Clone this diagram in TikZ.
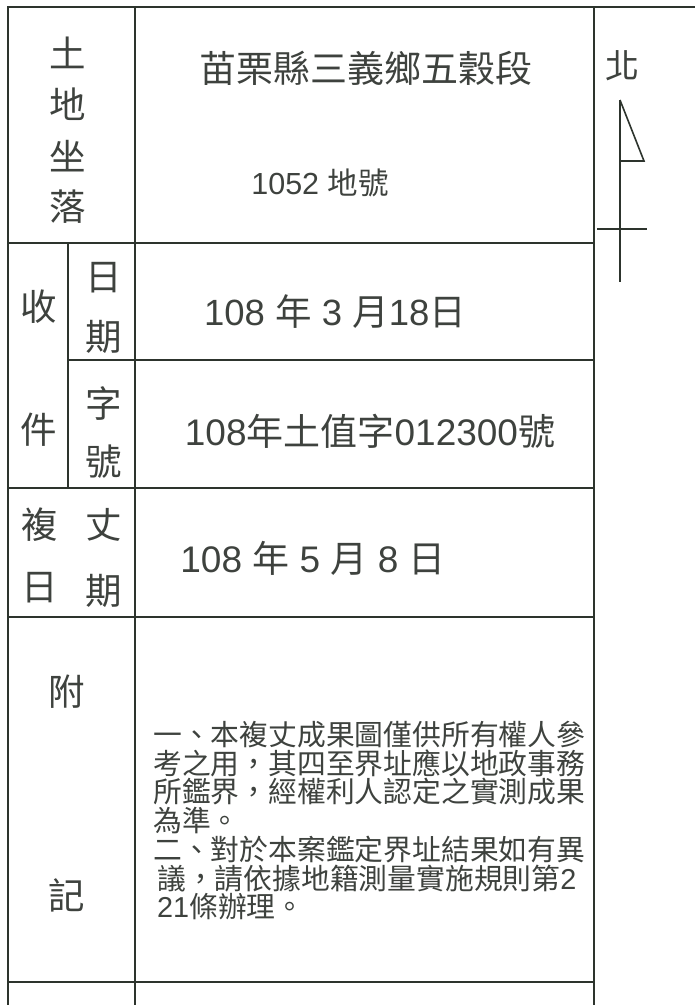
\documentclass[tikz,border=0pt]{standalone}
\usepackage{fontspec}
\setmainfont{Noto Sans CJK TC}
\newfontfamily\latf{Liberation Sans}
\definecolor{ink}{RGB}{45,52,45}
\definecolor{txt}{RGB}{62,66,62}
\tikzset{
  rule/.style={draw=ink, line width=1.8pt},
  lab/.style={text=txt, inner sep=0pt, font=\fontsize{36.5}{36.5}\selectfont},
  val/.style={text=txt, inner sep=0pt, font=\fontsize{37}{37}\selectfont},
}
\begin{document}
\begin{tikzpicture}[x=1pt,y=-1pt]
\useasboundingbox (0,0) rectangle (695,1005);
% table frame
\draw[rule] (695,7) -- (8,7) -- (8,1005);
\draw[rule] (135,7) -- (135,1005);
\draw[rule] (594,7) -- (594,1005);
\draw[rule] (8,243) -- (594,243);
\draw[rule] (68,243) -- (68,488);
\draw[rule] (68,360) -- (594,360);
\draw[rule] (8,488) -- (594,488);
\draw[rule] (8,617) -- (594,617);
\draw[rule] (8,982) -- (594,982);
% north arrow
\draw[rule, line width=1.6pt] (620,100) -- (620,282);
\draw[rule, line width=1.6pt] (620,100) -- (644,161) -- (621,161);
\draw[rule, line width=1.6pt] (597,229) -- (647,229);
\node[lab, font=\fontsize{34}{34}\selectfont] (bei) at (622,66) {北};
% left labels
\node[lab] (t1) at (68,53) {土};
\node[lab] (t2) at (68,104) {地};
\node[lab] (t3) at (68,156) {坐};
\node[lab] (t4) at (68,207) {落};
\node[lab] (s1) at (39,307) {收};
\node[lab] (s2) at (39,430) {件};
\node[lab] (r1) at (104,278) {日};
\node[lab] (r2) at (104,337) {期};
\node[lab] (r3) at (104,403) {字};
\node[lab] (r4) at (104,462) {號};
\node[lab] (f1) at (40,525) {複};
\node[lab] (f2) at (40,588) {日};
\node[lab] (f3) at (104,525) {丈};
\node[lab] (f4) at (104,591) {期};
\node[lab] (a1) at (67,692) {附};
\node[lab] (a2) at (67,895) {記};
% values
\node[val] (v1) at (366,68) {苗栗縣三義鄉五穀段};
\node[val, font=\fontsize{30.5}{30.5}\selectfont] (v2) at (320,183) {{\latf 1052 }地號};
\node[val, font=\fontsize{36.5}{36.5}\selectfont] (v3) at (335,312) {{\latf 108 }年{\latf{} 3 }月{\latf 18}日};
\node[val] (v4) at (370,431) {{\latf 108}年土值字{\latf 012300}號};
\node[val] (v5) at (313,558) {{\latf 108 }年{\latf{} 5 }月{\latf{} 8 }日};
\node[text=txt, inner sep=0pt, anchor=north west, align=left,
      font=\fontsize{28.8}{28.7}\selectfont] (note) at (153,721)
{一、本複丈成果圖僅供所有權人參\\
考之用，其四至界址應以地政事務\\
所鑑界，經權利人認定之實測成果\\
為準。\\
二、對於本案鑑定界址結果如有異\\
\hspace*{4pt}議，請依據地籍測量實施規則第{\latf 2}\\
\hspace*{4pt}{\latf 21}條辦理。};
\end{tikzpicture}
\end{document}
